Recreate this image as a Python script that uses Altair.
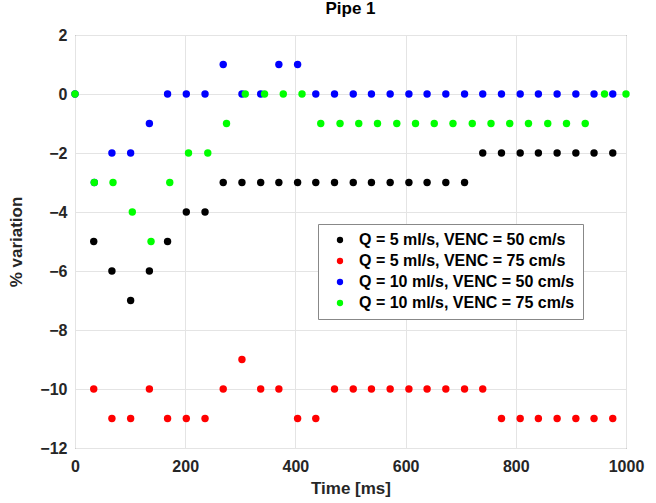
import altair as alt
import pandas as pd

# Time stamps (ms)
t_common = [34, 67, 101, 135, 168, 202, 236, 269, 303, 337, 370, 404, 437, 471,
            505, 538, 572, 606, 639, 673, 707, 740, 774, 808, 841, 875, 909, 942, 976]
t_blue = [0, 35, 67, 101, 135, 168, 202, 236, 269, 303, 337, 370, 404, 437, 471,
          505, 538, 572, 606, 639, 673, 707, 740, 774, 808, 841, 875, 909, 942, 976]
t_green = [0, 35, 69, 104, 138, 172, 206, 241, 275, 309, 344, 378, 412, 446, 481,
           515, 549, 584, 618, 652, 686, 721, 755, 789, 823, 858, 892, 926, 961, 1000]

# % variation values
black = [-5, -6, -7, -6, -5, -4, -4] + [-3] * 14 + [-2] * 8
red = [-10, -11, -11, -10, -11, -11, -11, -10, -9, -10, -10, -11, -11] + [-10] * 9 + [-11] * 7
blue = [0, -3, -2, -2, -1, 0, 0, 0, 1, 0, 0, 1, 1, 0] + [0] * 16
green = [0, -3, -3, -4, -5, -3, -2, -2, -1, 0, 0, 0, 0] + [-1] * 15 + [0, 0]

names = ["Q = 5 ml/s, VENC = 50 cm/s", "Q = 5 ml/s, VENC = 75 cm/s",
         "Q = 10 ml/s, VENC = 50 cm/s", "Q = 10 ml/s, VENC = 75 cm/s"]
colors = ["#000000", "#ff0000", "#0000ff", "#00ff00"]

rows = []
for name, ts, vs in zip(names, [t_common, t_common, t_blue, t_green], [black, red, blue, green]):
    for t, v in zip(ts, vs):
        rows.append({"time": t, "var": v, "series": name})
df = pd.DataFrame(rows)

FONT = "Liberation Sans"

chart = alt.Chart(df).mark_circle(size=55, opacity=1).encode(
    x=alt.X("time:Q", title="Time [ms]",
            scale=alt.Scale(domain=[0, 1000], nice=False),
            axis=alt.Axis(values=[0, 200, 400, 600, 800, 1000], format="d", labelFlush=False)),
    y=alt.Y("var:Q", title="% variation",
            scale=alt.Scale(domain=[-12, 2], nice=False),
            axis=alt.Axis(values=list(range(-12, 3, 2)), format="d", labelFlush=False)),
    color=alt.Color("series:N", scale=alt.Scale(domain=names, range=colors),
                    legend=alt.Legend(title=None, orient="none", legendX=243, legendY=189,
                                      symbolType="circle", symbolSize=40)),
).properties(
    width=551, height=413,
    title=alt.TitleParams("Pipe 1", font=FONT, fontSize=17, fontWeight="bold",
                          color="#000000", offset=9),
    autosize=alt.AutoSizeParams(type="none"),
    padding={"left": 75, "top": 35, "right": 30, "bottom": 55},
).configure_view(
    stroke="#555555", strokeWidth=1
).configure_axis(
    labelFont=FONT, labelFontSize=16, labelFontWeight="bold", labelColor="#262626",
    titleFont=FONT, titleFontSize=17, titleFontWeight="bold", titleColor="#262626",
    grid=True, gridColor="#e4e4e4", gridWidth=1,
    domain=False, ticks=False,
).configure_axisX(
    labelPadding=10, titlePadding=6,
).configure_axisY(
    labelPadding=8, titlePadding=14,
).configure_legend(
    labelFont=FONT, labelFontSize=16, labelFontWeight="bold", labelColor="#000000",
    fillColor="#ffffff", strokeColor="#888888", padding=8, symbolOffset=6,
    rowPadding=5, labelOffset=11, labelLimit=400,
)

chart.save("out.html", embed_options={"renderer": "svg", "actions": False})
